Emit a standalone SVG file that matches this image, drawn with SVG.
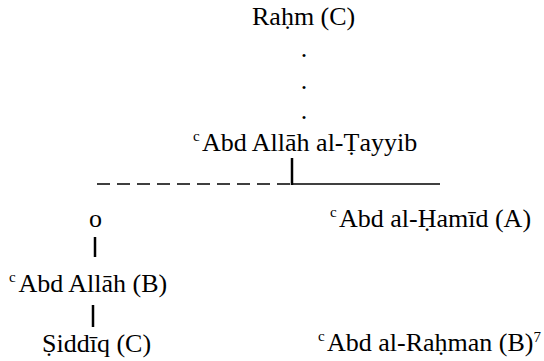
<svg xmlns="http://www.w3.org/2000/svg" width="544" height="361" viewBox="0 0 544 361">
  <style>
    .t { font-family: 'Liberation Serif', 'Times New Roman', Times, 'DejaVu Serif', serif; font-size: 26px; fill: #000; }
    .sup { font-size: 15px; }
    .bar { stroke: #000; stroke-width: 2.5; fill: none; }
    .rule { stroke: #000; stroke-width: 1.6; fill: none; }
  </style>
  <rect width="544" height="361" fill="#fff"/>

  <g class="t">
  <!-- connectors -->
  <g id="connectors">
    <!-- ellipsis of generations below Raḥm -->
    <text x="304" y="57" text-anchor="middle">.</text>
    <text x="304" y="89" text-anchor="middle">.</text>
    <text x="304" y="119" text-anchor="middle">.</text>
    <!-- split under ʿAbd Allāh al-Ṭayyib -->
    <line class="bar" x1="292" y1="158" x2="292" y2="185"/>
    <line class="rule" x1="97" y1="184" x2="290" y2="184" stroke-dasharray="13 7"/>
    <line class="rule" x1="292" y1="184" x2="440" y2="184"/>
    <!-- left branch -->
    <line class="bar" x1="95" y1="237" x2="95" y2="257"/>
    <line class="bar" x1="93" y1="305" x2="93" y2="327"/>
  </g>

  <g id="rahm">
    <text x="252" y="25">Raḥm (C)</text>
  </g>

  <g id="abd-allah-al-tayyib">
    <text x="193" y="151"><tspan class="sup" dy="-10">c</tspan><tspan x="202" dy="10">Abd Allāh al-Ṭayyib</tspan></text>
  </g>

  <g id="o">
    <text x="95.5" y="227" text-anchor="middle">o</text>
  </g>

  <g id="abd-al-hamid">
    <text x="330" y="227"><tspan class="sup" dy="-10">c</tspan><tspan x="339" dy="10">Abd al-Ḥamīd (A)</tspan></text>
  </g>

  <g id="abd-allah">
    <text x="9" y="292"><tspan class="sup" dy="-10">c</tspan><tspan x="18.5" dy="10">Abd Allāh (B)</tspan></text>
  </g>

  <g id="siddiq">
    <text x="42" y="352">Ṣiddīq (C)</text>
  </g>

  <g id="abd-al-rahman">
    <text x="318" y="351"><tspan class="sup" dy="-10">c</tspan><tspan x="327" dy="10">Abd al-Raḥman (B)</tspan><tspan class="sup" dy="-9">7</tspan></text>
  </g>
  </g>
</svg>
